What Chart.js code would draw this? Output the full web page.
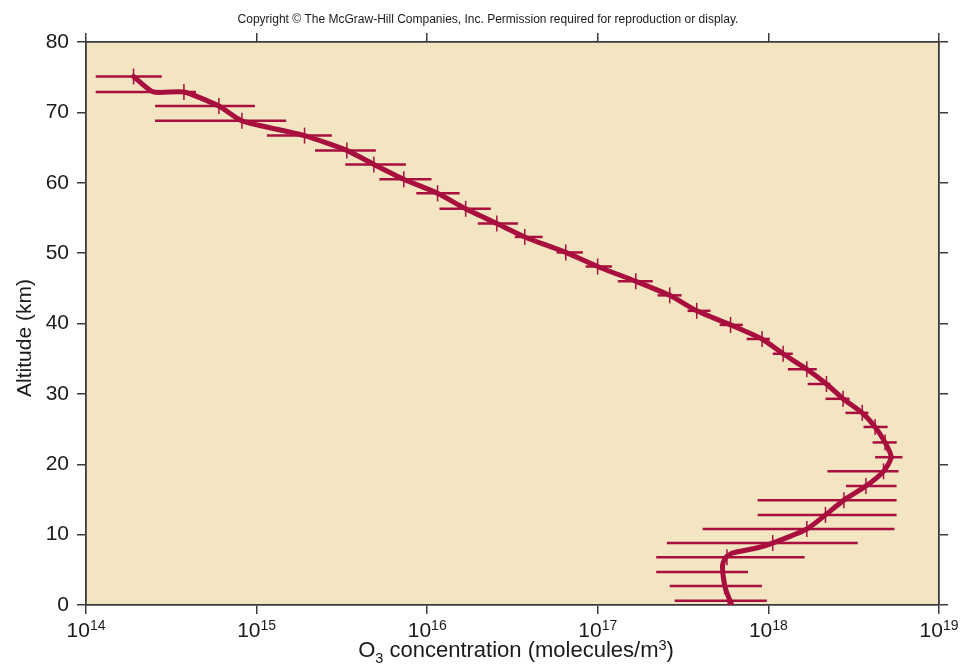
<!DOCTYPE html>
<html>
<head>
<meta charset="utf-8">
<title>O3 profile</title>
<script src="https://cdn.jsdelivr.net/npm/chart.js@4/dist/chart.umd.min.js"></script>
<style>
    body { margin: 0; background: #ffffff; }
    #wrap { width: 960px; height: 669px; }
</style>
</head>
<body>
<div id="wrap"><canvas id="OzoneChart" width="960" height="669"></canvas></div>
<script>
const altitudes = [75.1, 72.9, 70.9, 68.8, 66.7, 64.6, 62.6, 60.5, 58.5, 56.3, 54.2, 52.3, 50.1, 48.1,
    46.0, 44.0, 41.8, 39.8, 37.8, 35.7, 33.5, 31.4, 29.3, 27.3, 25.3, 23.1, 21.0, 19.0, 16.9, 14.9,
    12.8, 10.8, 8.8, 6.8, 4.7, 2.7, 0.6];

// O3 concentration at every altitude (molecules/m3)
const ozone = [1.90e14, 3.75e14, 6.01e14, 8.20e14, 1.91e15, 3.38e15, 4.87e15, 7.29e15, 1.15e16, 1.68e16,
    2.56e16, 3.73e16, 6.49e16, 9.98e16, 1.67e17, 2.64e17, 3.80e17, 6.00e17, 9.18e17, 1.22e18,
    1.68e18, 2.19e18, 2.74e18, 3.55e18, 4.22e18, 4.83e18, 5.13e18, 4.73e18, 3.73e18, 2.77e18,
    2.16e18, 1.68e18, 1.06e18, 5.72e17, 5.36e17, 5.54e17, 5.81e17];

// Left and right end of every error bar
const errLow = [1.14e14, 1.14e14, 2.54e14, 2.54e14, 1.15e15, 2.20e15, 3.31e15, 5.24e15, 8.63e15, 1.18e16,
    1.98e16, 3.26e16, 5.74e16, 8.49e16, 1.31e17, 2.24e17, 3.36e17, 5.18e17, 7.45e17, 1.06e18,
    1.30e18, 1.70e18, 2.16e18, 2.83e18, 3.61e18, 4.08e18, 4.22e18, 2.22e18, 2.85e18, 8.65e17,
    8.65e17, 4.12e17, 2.54e17, 2.20e17, 2.20e17, 2.64e17, 2.82e17];
const errHigh = [2.78e14, 4.41e14, 9.77e14, 1.49e15, 2.76e15, 5.00e15, 7.50e15, 1.06e16, 1.55e16, 2.36e16,
    3.40e16, 4.75e16, 8.17e16, 1.21e17, 2.10e17, 3.10e17, 4.58e17, 7.08e17, 1.02e18, 1.39e18,
    1.92e18, 2.31e18, 2.99e18, 3.86e18, 5.00e18, 5.65e18, 6.11e18, 5.79e18, 5.64e18, 5.64e18,
    5.64e18, 5.48e18, 3.34e18, 1.63e18, 7.59e17, 9.16e17, 9.79e17];

// The thick smoothed profile line (it does not pass exactly through every mark)
const profileAlt = [75.1, 72.9, 72.9, 70.9, 68.8, 66.7, 64.6, 62.6, 60.5, 58.5, 56.3, 54.2, 52.3, 50.1,
    48.1, 46.0, 44.0, 41.8, 39.8, 37.8, 35.7, 33.5, 31.4, 29.3, 27.3, 25.3, 23.1, 21.0, 19.0, 16.9,
    14.9, 12.8, 10.8, 8.8, 8.1, 7.4, 6.8, 5.7, 4.0, 2.1, 0.0];
const profileConc = [1.90e14, 2.48e14, 3.75e14, 6.01e14, 8.20e14, 1.91e15, 3.38e15, 4.87e15, 7.29e15, 1.15e16,
    1.68e16, 2.56e16, 3.73e16, 6.49e16, 9.98e16, 1.67e17, 2.64e17, 3.80e17, 6.00e17, 9.18e17,
    1.22e18, 1.68e18, 2.19e18, 2.74e18, 3.55e18, 4.22e18, 4.83e18, 5.25e18, 4.73e18, 3.73e18,
    2.77e18, 2.16e18, 1.68e18, 1.06e18, 8.53e17, 6.19e17, 5.64e17, 5.39e17, 5.44e17, 5.64e17, 6.10e17];

// Axis ticks
const xTicks = [1e14, 1e15, 1e16, 1e17, 1e18, 1e19];
const xTickExponents = ['14', '15', '16', '17', '18', '19'];
const altTicks = [0, 10, 20, 30, 40, 50, 60, 70, 80];

const copyrightText = 'Copyright \u00A9 The McGraw-Hill Companies, Inc. Permission required for reproduction or display.';

const LineColor = '#A80F3E';
const FrameColor = '#3a3a3a';
const FontFamily = '"Liberation Sans", Arial, Helvetica, sans-serif';

Chart.defaults.font.family = FontFamily;

/**
 * Beige plot background and horizontal error bars (drawn under the line)
 */
const backgroundAndBars = {
    id: 'backgroundAndBars',
    beforeDraw(chart) {
        let area = chart.chartArea;
        let ctx = chart.ctx;
        ctx.save();
        ctx.fillStyle = '#F3E4C2';
        ctx.fillRect(area.left, area.top, area.right - area.left, area.bottom - area.top);
        ctx.restore();
    },
    beforeDatasetsDraw(chart) {
        let ctx = chart.ctx;
        let xScale = chart.scales.x;
        let yScale = chart.scales.y;
        ctx.save();
        ctx.strokeStyle = LineColor;
        ctx.lineWidth = 2.5;
        altitudes.forEach((alt, i) => {
            let py = yScale.getPixelForValue(alt);
            ctx.beginPath();
            ctx.moveTo(xScale.getPixelForValue(errLow[i]), py);
            ctx.lineTo(xScale.getPixelForValue(errHigh[i]), py);
            ctx.stroke();
        });
        ctx.restore();
    }
};

/**
 * Texts that need sub/superscripts: 10^n tick labels, axis titles, copyright line
 */
const labelText = {
    id: 'labelText',
    afterDraw(chart) {
        let ctx = chart.ctx;
        let xScale = chart.scales.x;
        let area = chart.chartArea;
        ctx.save();
        ctx.fillStyle = '#1a1a1a';
        ctx.textBaseline = 'alphabetic';
        ctx.textAlign = 'left';

        // copyright line at the very top
        ctx.font = '12px ' + FontFamily;
        ctx.textAlign = 'center';
        ctx.fillText(copyrightText, 488, 23);
        ctx.textAlign = 'left';

        // 10^n tick labels, centred on their tick
        xTicks.forEach((value, i) => {
            let px = xScale.getPixelForValue(value);
            ctx.font = '21px ' + FontFamily;
            let baseWidth = ctx.measureText('10').width;
            ctx.font = '14px ' + FontFamily;
            let expWidth = ctx.measureText(xTickExponents[i]).width;
            let left = px - (baseWidth + expWidth) / 2;
            ctx.font = '21px ' + FontFamily;
            ctx.fillText('10', left, area.bottom + 32);
            ctx.font = '14px ' + FontFamily;
            ctx.fillText(xTickExponents[i], left + baseWidth, area.bottom + 25);
        });

        // x axis title: O3 concentration (molecules/m3)
        let parts = [
            {text: 'O', size: 22, dy: 0},
            {text: '3', size: 14.5, dy: 6},
            {text: ' concentration (molecules/m', size: 22, dy: 0},
            {text: '3', size: 14.5, dy: -7},
            {text: ')', size: 22, dy: 0}
        ];
        let total = 0;
        parts.forEach(p => {
            ctx.font = p.size + 'px ' + FontFamily;
            p.width = ctx.measureText(p.text).width;
            total += p.width;
        });
        let cursor = 516 - total / 2;
        parts.forEach(p => {
            ctx.font = p.size + 'px ' + FontFamily;
            ctx.fillText(p.text, cursor, 657 + p.dy);
            cursor += p.width;
        });

        // y axis title
        ctx.translate(31, 338);
        ctx.rotate(-Math.PI / 2);
        ctx.textAlign = 'center';
        ctx.font = '21px ' + FontFamily;
        ctx.fillText('Altitude (km)', 0, 0);
        ctx.restore();
    }
};

function FrameGrid() {
    return {drawOnChartArea: false, drawTicks: true, tickLength: 9, color: FrameColor, lineWidth: 1.5};
}

function FrameBorder() {
    return {display: true, color: FrameColor, width: 1.8};
}

function CreateChart() {
    let ctx = document.getElementById('OzoneChart').getContext('2d');

    let markerPoints = ozone.map((c, i) => ({x: c, y: altitudes[i]}));
    let profilePoints = profileConc.map((c, i) => ({x: c, y: profileAlt[i]}));

    return new Chart(ctx, {
        type: 'scatter',
        data: {
            datasets: [
                {
                    // vertical tick marks on every measurement
                    label: 'measurements',
                    data: markerPoints,
                    showLine: false,
                    pointStyle: 'line',
                    rotation: 90,
                    pointRadius: 8,
                    borderWidth: 1.5,
                    borderColor: LineColor,
                    backgroundColor: LineColor
                },
                {
                    label: 'profile',
                    data: profilePoints,
                    showLine: true,
                    tension: 0.2,
                    pointRadius: 0,
                    borderWidth: 5,
                    borderColor: LineColor,
                    borderCapStyle: 'round',
                    borderJoinStyle: 'round'
                }
            ]
        },
        options: {
            responsive: false,
            animation: false,
            layout: {padding: 0},
            plugins: {
                legend: {display: false},
                tooltip: {enabled: false},
                title: {display: false}
            },
            scales: {
                x: {
                    type: 'logarithmic',
                    position: 'bottom',
                    min: 1e14,
                    max: 1e19,
                    afterBuildTicks: s => { s.ticks = xTicks.map(v => ({value: v})); },
                    afterFit: s => { s.height = 64; },
                    ticks: {display: false},
                    grid: FrameGrid(),
                    border: FrameBorder()
                },
                xTop: {
                    type: 'logarithmic',
                    position: 'top',
                    min: 1e14,
                    max: 1e19,
                    afterBuildTicks: s => { s.ticks = xTicks.map(v => ({value: v})); },
                    afterFit: s => { s.height = 42; },
                    ticks: {display: false},
                    grid: FrameGrid(),
                    border: FrameBorder()
                },
                y: {
                    type: 'linear',
                    position: 'left',
                    min: 0,
                    max: 80,
                    afterBuildTicks: s => { s.ticks = altTicks.map(v => ({value: v})); },
                    afterFit: s => { s.width = 86; },
                    ticks: {
                        color: '#1a1a1a',
                        padding: 8,
                        font: {size: 21}
                    },
                    grid: FrameGrid(),
                    border: FrameBorder()
                },
                yRight: {
                    type: 'linear',
                    position: 'right',
                    min: 0,
                    max: 80,
                    afterBuildTicks: s => { s.ticks = altTicks.map(v => ({value: v})); },
                    afterFit: s => { s.width = 21; },
                    ticks: {display: false},
                    grid: FrameGrid(),
                    border: FrameBorder()
                }
            }
        },
        plugins: [backgroundAndBars, labelText]
    });
}

CreateChart();
</script>
</body>
</html>
